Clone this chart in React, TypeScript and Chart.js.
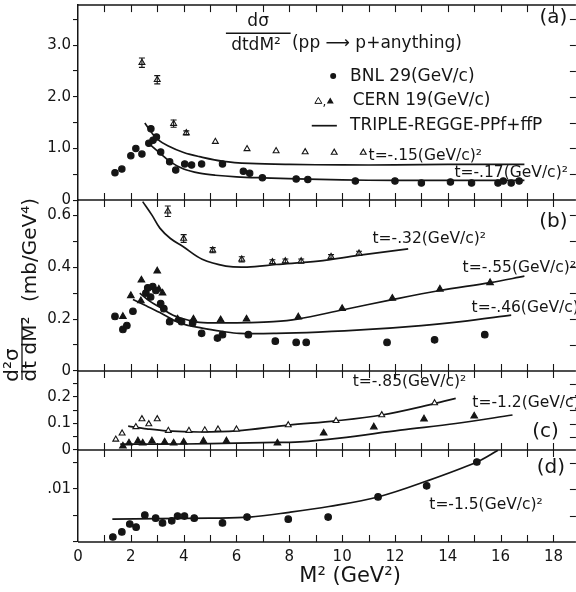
import { useEffect, useRef } from 'react';
import { Chart, registerables } from 'chart.js';
Chart.register(...registerables);

const FONT = '"DejaVu Sans", "Liberation Sans", sans-serif';
const INK = '#151515';
const CANVAS_W = 581;

// ---------- Panel (a): t = -.15 / -.17 ----------
const cernOpenA_X = [2.42, 3.0, 3.62, 4.1, 5.2, 6.4, 7.5, 8.6, 9.7, 10.8];
const cernOpenA_Y = [2.66, 2.33, 1.48, 1.30, 1.13, 0.99, 0.95, 0.93, 0.92, 0.92];
const cernOpenA_Err = [0.09, 0.08, 0.07, 0.04, 0, 0, 0, 0, 0, 0];
const bnlA_X = [1.4, 1.66, 2.0, 2.19, 2.42, 2.68, 2.76, 2.84, 2.97, 3.13, 3.47, 3.7, 4.04, 4.3, 4.68, 5.47, 6.26, 6.5, 6.98, 8.26, 8.7, 10.5, 12.0, 13.0, 14.1, 14.9, 15.9, 16.1, 16.4, 16.7];
const bnlA_Y = [0.53, 0.60, 0.86, 1.0, 0.89, 1.1, 1.38, 1.16, 1.22, 0.93, 0.74, 0.58, 0.70, 0.68, 0.70, 0.70, 0.56, 0.52, 0.43, 0.41, 0.40, 0.37, 0.37, 0.33, 0.35, 0.33, 0.33, 0.37, 0.33, 0.37];
const curveA15_X = [2.53, 2.8, 3.0, 3.4, 4.0, 4.6, 5.5, 6.5, 8.0, 10, 12, 14, 16.9];
const curveA15_Y = [1.49, 1.30, 1.18, 1.05, 0.92, 0.84, 0.75, 0.71, 0.69, 0.68, 0.68, 0.69, 0.69];
const curveA17_X = [2.6, 3.1, 3.5, 4.0, 4.6, 5.2, 6.0, 7.0, 8.3, 10, 12, 14, 16.9];
const curveA17_Y = [1.13, 0.91, 0.74, 0.60, 0.52, 0.48, 0.45, 0.43, 0.41, 0.39, 0.38, 0.38, 0.38];

// ---------- Panel (b): t = -.32 / -.55 / -.46 ----------
const cernOpenB_X = [3.4, 4.0, 5.1, 6.2, 7.36, 7.85, 8.45, 9.58, 10.64];
const cernOpenB_Y = [0.615, 0.51, 0.465, 0.43, 0.42, 0.423, 0.423, 0.44, 0.453];
const cernOpenB_Err = [0.02, 0.015, 0.01, 0.01, 0.008, 0.008, 0.008, 0.008, 0.008];
const cernFilledB_X = [1.7, 2.0, 2.38, 2.4, 3.0, 3.06, 3.2, 3.77, 4.37, 5.4, 6.38, 8.34, 10.0, 11.9, 13.7, 15.6];
const cernFilledB_Y = [0.21, 0.29, 0.27, 0.35, 0.385, 0.315, 0.30, 0.20, 0.20, 0.197, 0.20, 0.208, 0.24, 0.28, 0.315, 0.34];
const bnlB_X = [1.4, 1.7, 1.85, 2.08, 2.57, 2.64, 2.75, 2.83, 2.95, 3.13, 3.25, 3.47, 3.92, 4.34, 4.68, 5.28, 5.47, 6.45, 7.47, 8.26, 8.64, 11.7, 13.5, 15.4];
const bnlB_Y = [0.21, 0.16, 0.175, 0.23, 0.30, 0.32, 0.285, 0.325, 0.31, 0.26, 0.24, 0.19, 0.19, 0.185, 0.145, 0.127, 0.14, 0.14, 0.115, 0.11, 0.11, 0.11, 0.12, 0.14];
const curveB32_X = [2.45, 2.8, 3.1, 3.5, 3.96, 4.7, 5.6, 6.4, 7.5, 9.1, 10.6, 12.5];
const curveB32_Y = [0.652, 0.60, 0.55, 0.51, 0.48, 0.43, 0.404, 0.40, 0.41, 0.423, 0.445, 0.47];
const curveB55_X = [2.34, 2.7, 3.1, 3.6, 4.2, 4.6, 5.5, 6.4, 7.4, 8.3, 10.0, 11.9, 13.7, 15.6, 16.9];
const curveB55_Y = [0.30, 0.27, 0.245, 0.215, 0.195, 0.187, 0.185, 0.186, 0.19, 0.20, 0.235, 0.275, 0.31, 0.34, 0.365];
const curveB46_X = [2.08, 2.6, 3.1, 3.85, 4.7, 5.5, 6.1, 7.5, 9.1, 11, 13, 14.5, 16.4];
const curveB46_Y = [0.275, 0.25, 0.225, 0.185, 0.165, 0.152, 0.145, 0.145, 0.15, 0.16, 0.175, 0.19, 0.215];

// ---------- Panel (c): t = -.85 / -1.2 ----------
const cernOpenC_X = [1.43, 1.67, 2.19, 2.42, 2.68, 3.0, 3.42, 4.2, 4.8, 5.3, 6.0, 7.96, 9.77, 11.5, 13.5];
const cernOpenC_Y = [0.04, 0.063, 0.087, 0.117, 0.098, 0.117, 0.073, 0.073, 0.075, 0.078, 0.078, 0.094, 0.11, 0.132, 0.177];
const cernFilledC_X = [1.7, 1.93, 2.27, 2.45, 2.8, 3.28, 3.62, 4.0, 4.75, 5.62, 7.55, 9.3, 11.2, 13.1, 15.0];
const cernFilledC_Y = [0.015, 0.026, 0.034, 0.026, 0.034, 0.03, 0.026, 0.03, 0.034, 0.034, 0.026, 0.064, 0.087, 0.117, 0.128];
const curveC85_X = [1.9, 2.6, 3.35, 4.6, 6.0, 7.96, 9.77, 11.5, 13.5, 14.3];
const curveC85_Y = [0.09, 0.08, 0.072, 0.068, 0.072, 0.094, 0.11, 0.132, 0.175, 0.195];
const curveC12_X = [1.6, 3, 5, 7, 8.4, 9.9, 12.2, 14.3, 16.45];
const curveC12_Y = [0.022, 0.022, 0.024, 0.028, 0.031, 0.045, 0.075, 0.10, 0.132];

// ---------- Panel (d): t = -1.5 ----------
const bnlD_X = [1.32, 1.66, 1.96, 2.2, 2.53, 2.94, 3.2, 3.55, 3.77, 4.03, 4.4, 5.47, 6.4, 7.96, 9.47, 11.36, 13.2, 15.1];
const bnlD_Y = [0.00094, 0.0019, 0.0034, 0.0028, 0.0051, 0.0045, 0.0036, 0.004, 0.0049, 0.0049, 0.0045, 0.0036, 0.0047, 0.0043, 0.0047, 0.0085, 0.0106, 0.0151];
const curveD15_X = [1.3, 3, 5, 6.5, 8, 9.5, 11.36, 13.2, 15.1, 15.9];
const curveD15_Y = [0.0043, 0.0044, 0.0045, 0.0047, 0.0056, 0.0067, 0.0085, 0.0115, 0.0151, 0.0173];

// ---------- Tick labels ----------
const xTickVals = [0, 2, 4, 6, 8, 10, 12, 14, 16, 18];
const xTickLabels = ['0', '2', '4', '6', '8', '10', '12', '14', '16', '18'];
const aTickVals = [0, 1, 2, 3];
const aTickLabels = ['0', '1.0', '2.0', '3.0'];
const bTickVals = [0, 0.2, 0.4, 0.6];
const bTickLabels = ['0', '0.2', '0.4', '0.6'];
const cTickVals = [0, 0.1, 0.2];
const cTickLabels = ['0', '0.1', '0.2'];
const dTickVals = [0.01];
const dTickLabels = ['.01'];

// ---------- Curve labels ----------
const noteText = ['t=-.15(GeV/c)²', 't=-.17(GeV/c)²', 't=-.32(GeV/c)²', 't=-.55(GeV/c)²', 't=-.46(GeV/c)²', 't=-.85(GeV/c)²', 't=-1.2(GeV/c)²', 't=-1.5(GeV/c)²'];
const noteAxis = ['ya', 'ya', 'yb', 'yb', 'yb', 'yc', 'yc', 'yd'];
const noteX = [11.0, 14.25, 11.15, 14.56, 14.9, 10.4, 14.93, 13.3];
const noteY = [0.86, 0.53, 0.508, 0.396, 0.242, 0.257, 0.177, 0.0070];
const panelText = ['(a)', '(b)', '(c)', '(d)'];
const panelAxis = ['ya', 'yb', 'yc', 'yd'];
const panelX = [18.0, 18.0, 17.7, 17.9];
const panelY = [3.53, 0.573, 0.068, 0.01396];

const pts = (xs: number[], ys: number[]) => xs.map((x, i) => ({ x, y: ys[i] }));
const lookup = (vals: number[], labels: string[]) => (v: number) => {
  const i = vals.findIndex((t) => Math.abs(t - v) < 1e-9);
  return i >= 0 ? labels[i] : '';
};

const marker = (yAxisID: string, xs: number[], ys: number[], style: string, filled: boolean, r: number, errs?: number[]) => ({
  type: 'scatter',
  yAxisID,
  xAxisID: 'x',
  data: pts(xs, ys),
  pointStyle: style,
  pointRadius: r,
  pointBorderWidth: 1.1,
  pointBackgroundColor: filled ? INK : '#fff',
  pointBorderColor: INK,
  showLine: false,
  order: 0,
  errs,
});
const curve = (yAxisID: string, xs: number[], ys: number[]) => ({
  type: 'line',
  yAxisID,
  xAxisID: 'x',
  data: pts(xs, ys),
  borderColor: INK,
  borderWidth: 1.7,
  pointRadius: 0,
  tension: 0.35,
  fill: false,
  order: 1,
});

const TL = 7;

const framePlugin = {
  id: 'frame',
  beforeDraw(chart: any) {
    const { ctx, width, height } = chart;
    ctx.save();
    ctx.fillStyle = '#fff';
    ctx.fillRect(0, 0, width, height);
    ctx.restore();
  },
  afterDatasetsDraw(chart: any) {
    const ctx = chart.ctx;
    ctx.save();
    ctx.strokeStyle = INK;
    ctx.lineWidth = 1.1;
    chart.data.datasets.forEach((ds: any, di: number) => {
      if (!ds.errs) return;
      const meta = chart.getDatasetMeta(di);
      const ys = chart.scales[ds.yAxisID];
      ds.data.forEach((p: any, i: number) => {
        const e = ds.errs[i];
        if (!e) return;
        const px = meta.data[i].x;
        const y1 = ys.getPixelForValue(p.y + e);
        const y2 = ys.getPixelForValue(p.y - e);
        ctx.beginPath();
        ctx.moveTo(px, y1); ctx.lineTo(px, y2);
        ctx.moveTo(px - 3, y1); ctx.lineTo(px + 3, y1);
        ctx.moveTo(px - 3, y2); ctx.lineTo(px + 3, y2);
        ctx.stroke();
      });
    });
    ctx.restore();
  },
  afterDraw(chart: any) {
    const ctx = chart.ctx;
    const xs = chart.scales.x;
    const { left, right } = chart.chartArea;
    const panels = ['ya', 'yb', 'yc', 'yd'].map((id) => chart.scales[id]);
    const bounds = [panels[0].top, panels[1].top, panels[2].top, panels[3].top, panels[3].bottom];
    ctx.save();
    ctx.strokeStyle = INK;
    bounds.forEach((by: number, bi: number) => {
      ctx.lineWidth = 1.5;
      ctx.beginPath(); ctx.moveTo(left, by); ctx.lineTo(right, by); ctx.stroke();
      ctx.lineWidth = 1.1;
      for (let v = 1; v <= 18; v++) {
        const px = Math.round(xs.getPixelForValue(v)) + 0.5;
        ctx.beginPath();
        if (bi > 0) { ctx.moveTo(px, by); ctx.lineTo(px, by - TL); }
        if (bi < 4) { ctx.moveTo(px, by); ctx.lineTo(px, by + TL); }
        ctx.stroke();
      }
    });
    const rx = Math.min(right, 576);
    panels.forEach((s: any) => {
      s.ticks.forEach((t: any) => {
        if (t.value === 0) return;
        const py = Math.round(s.getPixelForValue(t.value)) + 0.5;
        ctx.beginPath(); ctx.moveTo(rx - 6, py); ctx.lineTo(rx, py); ctx.stroke();
      });
    });

    // text
    ctx.fillStyle = INK;
    ctx.textBaseline = 'middle';
    const sa = chart.scales.ya;
    const X = (v: number) => xs.getPixelForValue(v);
    noteText.forEach((txt, i) => {
      ctx.font = `15.5px ${FONT}`;
      ctx.textAlign = 'left';
      ctx.fillText(txt, X(noteX[i]), chart.scales[noteAxis[i]].getPixelForValue(noteY[i]));
    });
    panelText.forEach((txt, i) => {
      ctx.font = `20px ${FONT}`;
      ctx.textAlign = 'center';
      ctx.fillText(txt, X(panelX[i]), chart.scales[panelAxis[i]].getPixelForValue(panelY[i]));
    });

    // title fraction in panel (a)
    ctx.font = `17px ${FONT}`;
    ctx.textAlign = 'center';
    ctx.fillText('dσ', X(6.82), sa.getPixelForValue(3.45));
    ctx.fillText('dtdM²', X(6.74), sa.getPixelForValue(3.0));
    ctx.lineWidth = 1.3;
    ctx.beginPath();
    ctx.moveTo(X(5.6), sa.getPixelForValue(3.23));
    ctx.lineTo(X(8.05), sa.getPixelForValue(3.23));
    ctx.stroke();
    ctx.textAlign = 'left';
    ctx.fillText('(pp ⟶ p+anything)', X(8.1), sa.getPixelForValue(3.03));

    // legend
    const ly = [2.40, 1.92, 1.44].map((v) => sa.getPixelForValue(v));
    ctx.font = `17px ${FONT}`;
    ctx.fillText('BNL 29(GeV/c)', X(10.3), ly[0]);
    ctx.fillText('CERN 19(GeV/c)', X(10.4), ly[1]);
    ctx.fillText('TRIPLE-REGGE-PPf+ffP', X(10.3), ly[2]);
    ctx.beginPath(); ctx.arc(X(9.66), ly[0], 3, 0, Math.PI * 2); ctx.fill();
    const tri = (cx: number, cy: number, filled: boolean) => {
      ctx.beginPath();
      ctx.moveTo(cx, cy - 3.5); ctx.lineTo(cx + 3.5, cy + 2.5); ctx.lineTo(cx - 3.5, cy + 2.5); ctx.closePath();
      ctx.lineWidth = 1;
      if (filled) ctx.fill(); else ctx.stroke();
    };
    tri(X(9.1), ly[1], false);
    ctx.font = `12px ${FONT}`;
    ctx.textAlign = 'center';
    ctx.fillText(',', X(9.33), ly[1] + 2);
    tri(X(9.55), ly[1], true);
    ctx.lineWidth = 1.7;
    ctx.beginPath(); ctx.moveTo(X(8.85), ly[2]); ctx.lineTo(X(9.8), ly[2]); ctx.stroke();

    // x title
    ctx.font = `21px ${FONT}`;
    ctx.textAlign = 'center';
    ctx.fillText('M² (GeV²)', X(10.3), chart.chartArea.bottom + 35);

    // y title (rotated)
    ctx.save();
    ctx.rotate(-Math.PI / 2);
    ctx.font = `20px ${FONT}`;
    ctx.textAlign = 'center';
    ctx.fillText('d²σ', -365, 13);
    ctx.fillText('dt dM²', -349, 31);
    ctx.lineWidth = 1.3;
    ctx.beginPath(); ctx.moveTo(-380, 22); ctx.lineTo(-318, 22); ctx.stroke();
    ctx.fillText('(mb/GeV⁴)', -250, 31);
    ctx.restore();

    ctx.restore();
  },
};

const noPad = (s: any) => {
  s.paddingLeft = 0;
  s.paddingRight = 0;
  s.paddingTop = 0;
  s.paddingBottom = 0;
};

const yScale = (weight: number, max: number, step: number, vals: number[], labels: string[], order: number) => ({
  type: 'linear',
  position: 'left',
  stack: 'panels',
  stackWeight: weight,
  weight: order,
  min: 0,
  max,
  offset: false,
  grid: { display: true, drawOnChartArea: false, drawTicks: true, tickLength: 5, color: INK, lineWidth: 1.1 },
  border: { display: true, color: INK, width: 1.5 },
  ticks: {
    stepSize: step,
    includeBounds: false,
    autoSkip: false,
    padding: 2,
    color: INK,
    font: { family: FONT, size: 15 },
    callback: lookup(vals, labels),
  },
  afterFit: (s: any) => { s.width = 78; noPad(s); },
});

export default function App() {
  const ref = useRef<HTMLCanvasElement>(null);
  useEffect(() => {
    const datasets: any[] = [
      curve('ya', curveA15_X, curveA15_Y),
      curve('ya', curveA17_X, curveA17_Y),
      marker('ya', cernOpenA_X, cernOpenA_Y, 'triangle', false, 3.4, cernOpenA_Err),
      marker('ya', bnlA_X, bnlA_Y, 'circle', true, 3.2),
      curve('yb', curveB32_X, curveB32_Y),
      curve('yb', curveB55_X, curveB55_Y),
      curve('yb', curveB46_X, curveB46_Y),
      marker('yb', cernOpenB_X, cernOpenB_Y, 'triangle', false, 3.4, cernOpenB_Err),
      marker('yb', cernFilledB_X, cernFilledB_Y, 'triangle', true, 3.8),
      marker('yb', bnlB_X, bnlB_Y, 'circle', true, 3.3),
      curve('yc', curveC85_X, curveC85_Y),
      curve('yc', curveC12_X, curveC12_Y),
      marker('yc', cernOpenC_X, cernOpenC_Y, 'triangle', false, 3.4),
      marker('yc', cernFilledC_X, cernFilledC_Y, 'triangle', true, 3.8),
      curve('yd', curveD15_X, curveD15_Y),
      marker('yd', bnlD_X, bnlD_Y, 'circle', true, 3.3),
    ];
    const chart = new Chart(ref.current as HTMLCanvasElement, {
      type: 'scatter',
      data: { datasets },
      options: {
        animation: false,
        responsive: false,
        layout: { padding: { top: 5, left: 0, right: 0, bottom: 0 } },
        plugins: { legend: { display: false }, tooltip: { enabled: false }, title: { display: false } },
        scales: {
          x: {
            type: 'linear',
            position: 'bottom',
            min: 0,
            max: 18.85,
            grid: { display: false, drawTicks: false },
            border: { display: false },
            ticks: {
              stepSize: 1,
              includeBounds: false,
              autoSkip: false,
              maxRotation: 0,
              padding: 6,
              color: INK,
              font: { family: FONT, size: 15 },
              callback: lookup(xTickVals, xTickLabels),
            },
            afterFit: (s: any) => { s.height = 50; noPad(s); },
          },
          yd: yScale(92, 0.01736, 0.005, dTickVals, dTickLabels, 1),
          yc: yScale(79, 0.298, 0.05, cTickVals, cTickLabels, 2),
          yb: yScale(171, 0.658, 0.1, bTickVals, bTickLabels, 3),
          ya: yScale(195, 3.775, 0.5, aTickVals, aTickLabels, 4),
        },
      } as any,
      plugins: [framePlugin],
    } as any);
    return () => chart.destroy();
  }, []);
  return (
    <div style={{ position: 'absolute', left: 0, top: 0, width: 576, height: 592, background: '#fff', overflow: 'hidden' }}>
      <canvas ref={ref} width={CANVAS_W} height={592} style={{ display: 'block', width: CANVAS_W, height: 592 }} />
    </div>
  );
}
